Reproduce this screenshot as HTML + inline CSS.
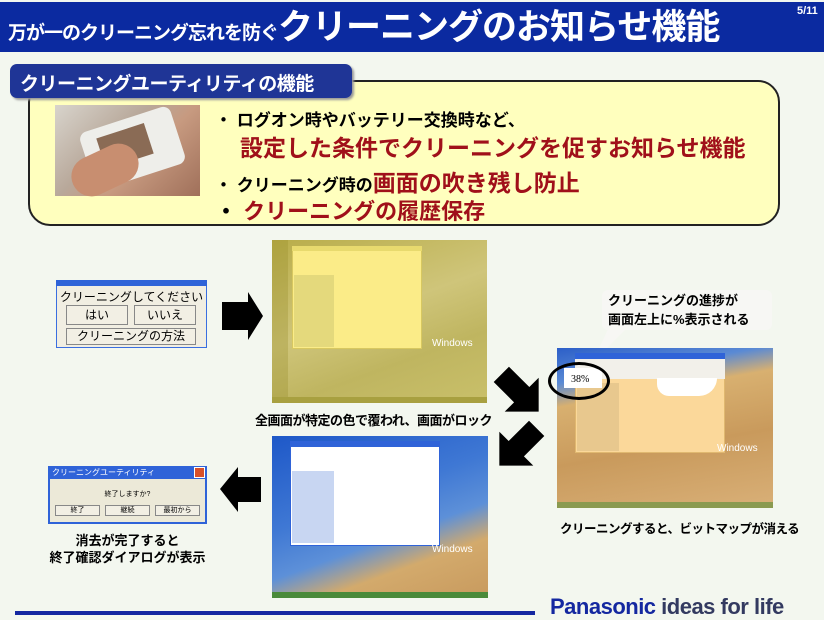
<!DOCTYPE html>
<html><head><meta charset="utf-8"><style>
*{margin:0;padding:0;box-sizing:border-box}
body{width:824px;height:620px;position:relative;overflow:hidden;background:#f3f7ef;font-family:"Liberation Sans","Noto Sans CJK JP",sans-serif}
.a{position:absolute}
.b{font-weight:bold}
.scr{position:absolute;overflow:hidden}
.btn{position:absolute;border:1px solid #888;background:#f2efe4;text-align:center}
</style></head><body>
<!-- header -->
<div class="a" style="left:0;top:2px;width:824px;height:50px;background:#0b2aa0"></div>
<div class="a b" style="left:8px;top:8px;color:#fff;font-size:19px;white-space:nowrap;line-height:40px;letter-spacing:-1px">万が一のクリーニング忘れを防ぐ<span style="font-size:35px;letter-spacing:-1px">クリーニングのお知らせ機能</span></div>
<div class="a b" style="left:797px;top:5px;color:#fff;font-size:11px">5/11</div>

<!-- yellow box -->
<div class="a" style="left:28px;top:80px;width:752px;height:146px;background:#ffffbe;border:2px solid #222;border-radius:22px"></div>
<div class="a" style="left:10px;top:64px;width:342px;height:34px;background:#1f3596;border-radius:7px;box-shadow:2px 2px 2px #999"></div>
<div class="a b" style="left:20px;top:69px;color:#fff;font-size:19px;white-space:nowrap;letter-spacing:-0.5px">クリーニングユーティリティの機能</div>
<div class="a" style="left:55px;top:105px;width:145px;height:91px;background:linear-gradient(135deg,#d8d4cc 0%,#b8a89a 40%,#c79a80 60%,#a0705a 100%)"></div>
<div class="a" style="left:85px;top:118px;width:95px;height:60px;background:#eeeeea;border-radius:8px;transform:rotate(-18deg)"></div>
<div class="a" style="left:100px;top:130px;width:50px;height:32px;background:#8a6b55;transform:rotate(-18deg)"></div>
<div class="a" style="left:70px;top:150px;width:70px;height:40px;background:#c88e70;border-radius:20px;transform:rotate(-25deg)"></div>

<div class="a b" style="left:215px;top:106px;font-size:17px;white-space:nowrap">・ ログオン時やバッテリー交換時など、</div>
<div class="a b" style="left:240px;top:129px;font-size:23px;color:#a0101a;white-space:nowrap">設定した条件でクリーニングを促すお知らせ機能</div>
<div class="a b" style="left:215px;top:164px;font-size:17px;white-space:nowrap">・ クリーニング時の<span style="font-size:23px;color:#a0101a">画面の吹き残し防止</span></div>
<div class="a b" style="left:215px;top:194px;font-size:22px;white-space:nowrap">・ <span style="color:#a0101a">クリーニングの履歴保存</span></div>

<!-- dialog1 -->
<div class="a" style="left:56px;top:280px;width:151px;height:68px;background:#f1eee2;border:1px solid #3a6ee0"></div>
<div class="a" style="left:56px;top:280px;width:151px;height:6px;background:#2f63d8"></div>
<div class="a" style="left:56px;top:288px;width:151px;text-align:center;font-size:12px">クリーニングしてください</div>
<div class="btn" style="left:66px;top:305px;width:62px;height:20px;font-size:12px;line-height:18px">はい</div>
<div class="btn" style="left:134px;top:305px;width:62px;height:20px;font-size:12px;line-height:18px">いいえ</div>
<div class="btn" style="left:66px;top:328px;width:130px;height:17px;font-size:12px;line-height:15px">クリーニングの方法</div>

<!-- arrow right -->
<svg class="a" style="left:220px;top:290px" width="45" height="52"><polygon points="2,12 28,12 28,2 43,26 28,50 28,40 2,40" fill="#000"/></svg>

<!-- screen1 yellow -->
<div class="scr" style="left:272px;top:240px;width:215px;height:163px;background:linear-gradient(160deg,#b9ad4a 0%,#cfc57a 45%,#bfb560 70%,#c9c06a 100%)">
 <div class="a" style="left:0;top:0;width:16px;height:163px;background:rgba(150,140,40,.3)"></div>
 <div class="a" style="left:20px;top:6px;width:130px;height:103px;background:#fbec88;border:1px solid #d8c860"></div>
 <div class="a" style="left:20px;top:6px;width:130px;height:5px;background:#e8da6e"></div>
 <div class="a" style="left:22px;top:35px;width:40px;height:72px;background:#e4d97c"></div>
 <div class="a" style="left:160px;top:98px;color:#fff;font-size:10px">Windows</div>
 <div class="a" style="left:0;top:157px;width:215px;height:6px;background:#a8a040"></div>
</div>
<div class="a b" style="left:255px;top:410px;font-size:13px;white-space:nowrap;letter-spacing:-0.5px">全画面が特定の色で覆われ、画面がロック</div>

<!-- callout -->
<div class="a" style="left:602px;top:290px;width:170px;height:40px;background:#f7f7f4;border-radius:6px"></div>
<svg class="a" style="left:590px;top:325px" width="60" height="40"><polygon points="20,0 40,0 2,38" fill="#f7f7f4"/></svg>
<div class="a b" style="left:608px;top:291px;font-size:13px;line-height:19px;white-space:nowrap">クリーニングの進捗が<br>画面左上に%表示される</div>

<!-- screen2 -->
<div class="scr" style="left:557px;top:348px;width:216px;height:160px;background:linear-gradient(170deg,#2c5fc8 0%,#5a8ad4 18%,#d8b070 30%,#c99a5c 60%,#d9b078 100%)">
 <div class="a" style="left:18px;top:5px;width:150px;height:100px;background:#fbd89a;border:1px solid #e0b870"></div>
 <div class="a" style="left:18px;top:5px;width:150px;height:6px;background:#2f63d8"></div>
 <div class="a" style="left:18px;top:11px;width:150px;height:20px;background:#f2f0ea"></div>
 <div class="a" style="left:20px;top:35px;width:42px;height:68px;background:#e8c88e"></div>
 <div class="a" style="left:100px;top:30px;width:60px;height:18px;background:#fff;border-radius:0 0 30px 20px"></div>
 <div class="a" style="left:160px;top:95px;color:#fff;font-size:10px">Windows</div>
 <div class="a" style="left:0;top:154px;width:216px;height:6px;background:#8a9a50"></div>
</div>
<div class="a" style="left:564px;top:368px;width:38px;height:20px;background:#fff"></div>
<div class="a" style="left:548px;top:362px;width:62px;height:38px;border:3px solid #000;border-radius:50%"></div>
<div class="a" style="left:571px;top:374px;font-size:10px;font-family:'Liberation Serif',serif">38%</div>
<div class="a b" style="left:560px;top:518px;font-size:12.5px;white-space:nowrap;letter-spacing:-0.5px">クリーニングすると、ビットマップが消える</div>

<!-- diagonal arrows -->
<svg class="a" style="left:488px;top:356px" width="64" height="74"><g transform="translate(32,37) rotate(45) scale(1.2) translate(-22,-20)"><polygon points="0,11 24,11 24,0 44,20 24,40 24,29 0,29" fill="#000"/></g></svg>
<svg class="a" style="left:488px;top:414px" width="64" height="68"><g transform="translate(30,33) rotate(135) scale(1.2) translate(-22,-20)"><polygon points="0,11 24,11 24,0 44,20 24,40 24,29 0,29" fill="#000"/></g></svg>

<!-- screen3 -->
<div class="scr" style="left:272px;top:436px;width:216px;height:162px;background:linear-gradient(160deg,#1e58c8 0%,#3f78d4 40%,#5d90d8 60%,#d3aa6c 75%,#c89a5e 100%)">
 <div class="a" style="left:18px;top:5px;width:150px;height:105px;background:#fff;border:1px solid #2f63d8"></div>
 <div class="a" style="left:18px;top:5px;width:150px;height:6px;background:#2f63d8"></div>
 <div class="a" style="left:20px;top:35px;width:42px;height:72px;background:#c8d6f2"></div>
 <div class="a" style="left:160px;top:108px;color:#fff;font-size:10px">Windows</div>
 <div class="a" style="left:0;top:156px;width:216px;height:6px;background:#4a8a3a"></div>
</div>

<!-- left arrow -->
<svg class="a" style="left:218px;top:465px" width="45" height="50"><polygon points="43,12 20,12 20,2 2,24 20,47 20,37 43,37" fill="#000"/></svg>

<!-- dialog2 -->
<div class="a" style="left:48px;top:466px;width:159px;height:58px;background:#ece9d8;border:2px solid #2f63d8"></div>
<div class="a" style="left:48px;top:466px;width:159px;height:13px;background:#2f63d8"></div>
<div class="a" style="left:52px;top:467px;color:#fff;font-size:8px">クリーニングユーティリティ</div>
<div class="a" style="left:194px;top:467px;width:11px;height:11px;background:#d8502a;border:1px solid #fff"></div>
<div class="a" style="left:48px;top:489px;width:159px;text-align:center;font-size:7px">終了しますか?</div>
<div class="btn" style="left:55px;top:505px;width:45px;height:11px;font-size:7px;line-height:9px">終了</div>
<div class="btn" style="left:105px;top:505px;width:45px;height:11px;font-size:7px;line-height:9px">継続</div>
<div class="btn" style="left:155px;top:505px;width:45px;height:11px;font-size:7px;line-height:9px">最初から</div>
<div class="a b" style="left:30px;top:532px;width:195px;text-align:center;font-size:13px;line-height:17px">消去が完了すると<br>終了確認ダイアログが表示</div>

<!-- footer -->
<div class="a" style="left:15px;top:611px;width:520px;height:4px;background:#1428a0"></div>
<div class="a b" style="left:550px;top:594px;font-size:22px;white-space:nowrap;color:#1428a0;letter-spacing:-0.5px">Panasonic <span style="color:#333a60">ideas for life</span></div>
</body></html>
